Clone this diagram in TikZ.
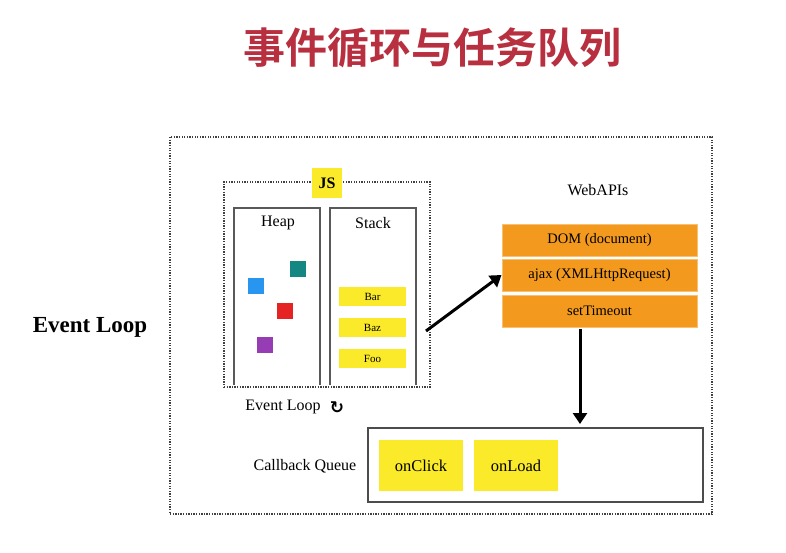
\documentclass[tikz,border=0pt]{standalone}
\usepackage{fontspec}
\setmainfont{Liberation Serif}
\newfontfamily\cjk{Noto Sans CJK SC}[BoldFont={Noto Sans CJK SC Bold}]
\newfontfamily\djv{DejaVu Sans}
\usetikzlibrary{arrows.meta}
\definecolor{ttl}{HTML}{B8303F}
\definecolor{yel}{HTML}{FBEA2A}
\definecolor{org}{HTML}{F39A1E}
\definecolor{orgb}{HTML}{F8C070}
\begin{document}
\begin{tikzpicture}[x=1pt,y=-1pt,
  dots/.style={draw=black!75,line width=2pt,dash pattern=on 1.3pt off 1.3pt},
  col/.style={draw=black!65,line width=1.4pt},
  yb/.style={fill=yel,draw=none,minimum width=67pt,minimum height=19pt,inner sep=0pt,font=\fontsize{11}{12}\selectfont},
  ob/.style={fill=org,draw=orgb,line width=1pt,minimum width=195pt,minimum height=32pt,inner sep=0pt,font=\fontsize{14.5}{16}\selectfont},
  cb/.style={fill=yel,draw=none,minimum width=84pt,minimum height=51pt,inner sep=0pt,font=\fontsize{16.5}{18}\selectfont},
  sq/.style={minimum size=16pt,inner sep=0pt,draw=none},
  lab/.style={font=\fontsize{16}{18}\selectfont},
  arr/.style={line width=3pt,-{Triangle[length=11pt,width=14pt]}}]
\useasboundingbox (0,0) rectangle (786,552);
\node[font=\cjk\bfseries\fontsize{42}{46}\selectfont,text=ttl] (title) at (432,48) {事件循环与任务队列};
\node[dots,minimum width=542pt,minimum height=377pt,inner sep=0pt] (outer) at (441,325.5) {};
\node[font=\bfseries\fontsize{23}{25}\selectfont] (el) at (90,327) {Event Loop};
\node[dots,minimum width=206pt,minimum height=205pt,inner sep=0pt] (js) at (327,284.5) {};
\node[fill=yel,minimum width=30pt,minimum height=30pt,inner sep=0pt,font=\bfseries\fontsize{16}{18}\selectfont] (jstag) at (327,183) {JS};
\draw[col] (234,385) -- (234,208) -- (320,208) -- (320,385);
\draw[col] (330,385) -- (330,208) -- (416,208) -- (416,385);
\node[lab] (heap) at (278,223) {Heap};
\node[lab] (stack) at (373,223) {Stack};
\node[sq,fill={rgb,255:red,40;green,150;blue,240}] (s1) at (255.5,285.5) {};
\node[sq,fill={rgb,255:red,20;green,135;blue,130}] (s2) at (298,269) {};
\node[sq,fill={rgb,255:red,230;green,35;blue,35}] (s3) at (285,311) {};
\node[sq,fill={rgb,255:red,150;green,60;blue,180}] (s4) at (265,345) {};
\node[yb] (bar) at (372.5,296.5) {Bar};
\node[yb] (baz) at (372.5,327.5) {Baz};
\node[yb] (foo) at (372.5,358.5) {Foo};
\node[lab] (ell) at (283,407) {Event Loop};
\node[font=\djv\bfseries\fontsize{17}{18}\selectfont] (cyc) at (337,408) {↻};
\node[lab] (web) at (598,190) {WebAPIs};
\node[ob] (dom) at (599.5,240) {DOM (document)};
\node[ob] (ajax) at (599.5,275) {ajax (XMLHttpRequest)};
\node[ob] (st) at (599.5,311) {setTimeout};
\coordinate (a0) at (426,331);
\draw[arr] (a0) -- (ajax.west);
\node[draw=black!70,line width=1.4pt,minimum width=335pt,minimum height=74pt,inner sep=0pt] (cq) at (535.5,465) {};
\coordinate (b0) at (580,329);
\coordinate (b1) at (580,424);
\draw[arr] (b0) -- (b1);
\node[lab] (cql) at (305,466) {Callback Queue};
\node[cb] (oc) at (421,465.5) {onClick};
\node[cb] (ol) at (516,465.5) {onLoad};
\end{tikzpicture}
\end{document}
